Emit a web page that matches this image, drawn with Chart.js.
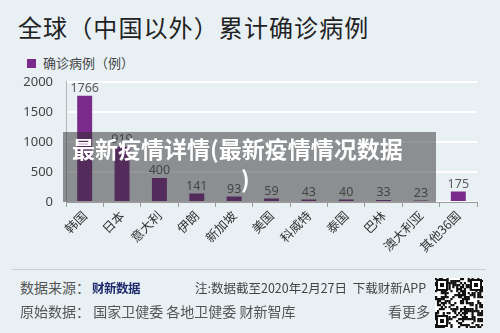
<!DOCTYPE html>
<html>
<head>
<meta charset="utf-8">
<script src="https://cdn.jsdelivr.net/npm/chart.js@4"></script>
<style>
  html, body { margin: 0; padding: 0; }
  body { width: 500px; height: 333px; background: #e8f0f4; position: relative; overflow: hidden;
         font-family: "Noto Sans CJK SC", "Noto Sans", sans-serif; }
  .abs { position: absolute; white-space: nowrap; }
  #title { left: 18px; top: 9px; font-size: 24px; letter-spacing: 1.1px; color: #222; }
  #legend { left: 27px; top: 53px; font-size: 13px; color: #444; }
  #legend i { display: inline-block; width: 9px; height: 9px; background: #7a2a8a; margin-right: 7px; }
  #chartBox { left: 0; top: 61px; width: 500px; height: 209px; }
  #rule { left: 12px; top: 269px; width: 474px; height: 1px; background: #c9d0d4; }
  .foot { font-size: 14px; color: #555; }
  .small { font-size: 12.5px; color: #444; }
  #logo { left: 92px; top: 278px; font-size: 12.5px; font-weight: bold; color: #1d2a6b; letter-spacing: -0.5px; }
  #qr { left: 435px; top: 278px; }
  #banner { left: 63px; top: 132px; width: 373px; height: 70px; background: rgba(45,45,45,0.5);
            color: #fff; font-weight: bold; font-size: 23px; line-height: 30px; }
  #banner span { position: absolute; }
</style>
</head>
<body>
<div id="title" class="abs">全球（中国以外）累计确诊病例</div>
<div id="legend" class="abs"><i></i>确诊病例（例）</div>
<div id="chartBox" class="abs"><canvas id="chart" width="500" height="209"></canvas></div>
<div id="rule" class="abs"></div>
<div class="abs foot" style="left:20px;top:277px;">数据来源：</div>
<div id="logo" class="abs">财新数据</div>
<div class="abs small" style="left:195px;top:278px;">注:数据截至2020年2月27日&nbsp; 下载财新APP</div>
<div class="abs foot" style="left:20px;top:301px;">原始数据： 国家卫健委 各地卫健委 财新智库</div>
<div class="abs foot" style="left:388px;top:301px;">看更多</div>
<canvas id="qr" class="abs" width="48" height="50"></canvas>
<div id="banner" class="abs"><span style="left:9px;top:1px;">最新疫情详情(最新疫情情况数据</span><span style="left:178px;top:31px;">)</span></div>
<script>
// data
const countries = ['韩国', '日本', '意大利', '伊朗', '新加坡', '美国', '科威特', '泰国', '巴林', '澳大利亚', '其他36国'];
const cases = [1766, 919, 400, 141, 93, 59, 43, 40, 33, 23, 175];
const yTicks = [0, 500, 1000, 1500, 2000];

const barColor = '#7a2a8a';

// value labels above bars
const valueLabels = {
  id: 'valueLabels',
  afterDatasetsDraw(chart) {
    const c = chart.ctx;
    const meta = chart.getDatasetMeta(0);
    c.save();
    c.font = '12.5px "Noto Sans", "DejaVu Sans", sans-serif';
    c.fillStyle = '#5a5a5a';
    c.textAlign = 'center';
    c.textBaseline = 'bottom';
    meta.data.forEach((bar, i) => {
      c.fillText(String(cases[i]), bar.x, bar.y - 1);
    });
    c.restore();
  }
};

new Chart(document.getElementById('chart'), {
  type: 'bar',
  data: {
    labels: countries,
    datasets: [{
      label: '确诊病例（例）',
      data: cases,
      backgroundColor: barColor,
      barPercentage: 0.4,
      categoryPercentage: 1
    }]
  },
  options: {
    responsive: false,
    animation: false,
    layout: { padding: { top: 2, right: 23, left: 0, bottom: 0 } },
    plugins: { legend: { display: false }, tooltip: { enabled: false } },
    scales: {
      x: {
        afterFit: s => { s.height = 68; },
        grid: { display: true, drawOnChartArea: false, offset: true, color: '#9a9a9a', tickLength: 5 },
        border: { color: '#9a9a9a' },
        ticks: {
          minRotation: 45, maxRotation: 45, autoSkip: false,
          color: '#333', padding: 1,
          font: { family: '"Noto Sans CJK SC", sans-serif', size: 12.5 }
        }
      },
      y: {
        min: 0, max: 2000,
        afterFit: s => { s.width = 66; },
        afterBuildTicks: s => { s.ticks = yTicks.map(v => ({ value: v })); },
        grid: { color: '#ffffff', lineWidth: 2, drawTicks: false },
        border: { display: true, color: '#b5b5b5' },
        ticks: {
          color: '#444', padding: 13,
          callback: v => String(v),
          font: { family: '"Noto Sans", "DejaVu Sans", sans-serif', size: 13 }
        }
      }
    }
  },
  plugins: [valueLabels]
});

// decorative QR-like block
(function () {
  const q = document.getElementById('qr').getContext('2d');
  q.fillStyle = '#fff';
  q.fillRect(0, 0, 48, 50);
  const n = 25, cs = 48 / n;
  q.fillStyle = '#111';
  let seed = 7;
  const rnd = () => { seed = (seed * 16807) % 2147483647; return seed / 2147483647; };
  for (let r = 0; r < n; r++) {
    for (let c = 0; c < n; c++) {
      if (rnd() < 0.5) q.fillRect(c * cs, r * cs * 50 / 48, cs + 0.3, cs + 0.3);
    }
  }
  function finder(x, y) {
    q.fillStyle = '#111'; q.fillRect(x, y, 12, 12);
    q.fillStyle = '#fff'; q.fillRect(x + 2, y + 2, 8, 8);
    q.fillStyle = '#111'; q.fillRect(x + 4, y + 4, 4, 4);
  }
  finder(1, 1); finder(35, 1); finder(1, 37);
})();
</script>
</body>
</html>
